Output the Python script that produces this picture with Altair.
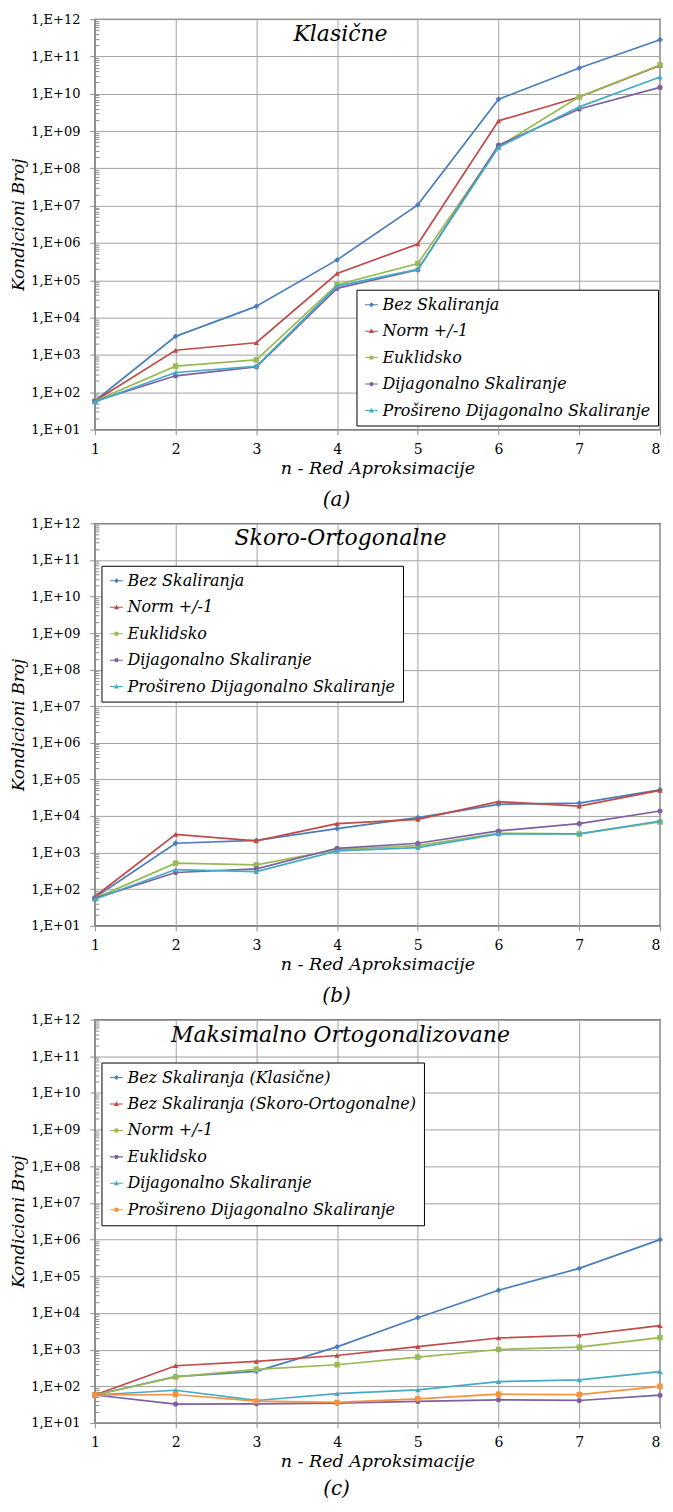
import altair as alt
import pandas as pd

FONT = "DejaVu Serif"

x_vals = [1, 2, 3, 4, 5, 6, 7, 8]
y_ticks = [10 ** k for k in range(1, 13)]
minor_ticks = [m * 10 ** k for k in range(1, 12) for m in range(2, 10)]

# ---- (a) Klasične
series_a = ["Bez Skaliranja", "Norm +/-1", "Euklidsko", "Dijagonalno Skaliranje",
            "Prošireno Dijagonalno Skaliranje"]
a_bez = [58, 3140, 20000, 352000, 1.05e7, 7.1e9, 4.9e10, 2.8e11]
a_norm = [58, 1330, 2120, 152000, 9.4e5, 1.88e9, 8.2e9, 5.7e10]
a_euk = [58, 498, 733, 76000, 281000, 3.8e8, 8.3e9, 5.9e10]
a_dij = [57, 275, 478, 60700, 190000, 4.2e8, 3.9e9, 1.48e10]
a_pro = [55, 337, 490, 70000, 195000, 3.67e8, 4.45e9, 2.8e10]

# ---- (b) Skoro-Ortogonalne
series_b = series_a
b_bez = [59, 1800, 2150, 4500, 9000, 20800, 22600, 52000]
b_norm = [63, 3160, 2080, 6170, 8100, 24600, 18700, 50000]
b_euk = [56, 512, 461, 1210, 1550, 3370, 3230, 6860]
b_dij = [56, 285, 359, 1310, 1800, 3900, 6170, 13700]
b_pro = [53, 343, 303, 1110, 1370, 3230, 3230, 7300]

# ---- (c) Maksimalno Ortogonalizovane
series_c = ["Bez Skaliranja (Klasične)", "Bez Skaliranja (Skoro-Ortogonalne)", "Norm +/-1",
            "Euklidsko", "Dijagonalno Skaliranje", "Prošireno Dijagonalno Skaliranje"]
c_bez_k = [58, 184, 256, 1190, 7420, 41600, 164000, 1.0e6]
c_bez_s = [58, 364, 477, 693, 1215, 2080, 2470, 4500]
c_norm = [58, 180, 290, 387, 625, 1010, 1170, 2130]
c_euk = [58, 32.7, 33.3, 34.8, 38.6, 42.9, 41.1, 57.3]
c_dij = [58, 78, 41, 63.5, 80, 134, 149, 251]
c_pro = [58, 59.7, 39.4, 36.3, 45.6, 61, 59.7, 100]

BLUE, RED, GREEN, PURPLE, CYAN, ORANGE = "#4A7EBB", "#BE4B48", "#98B954", "#7D60A0", "#46AAC5", "#F69240"

LINE = "M-1,-0.08H1V0.08H-1Z "
P_DIAMOND = LINE + "M0,-0.38L0.38,0L0,0.38L-0.38,0Z"
P_TRI = LINE + "M0,-0.4L0.4,0.3H-0.4Z"
P_SQ = LINE + "M-0.3,-0.3H0.3V0.3H-0.3Z"
P_CIRC = LINE + "M0.32,0A0.32,0.32 0 1,1 -0.32,0A0.32,0.32 0 1,1 0.32,0Z"

styles_a = [(BLUE, "diamond", P_DIAMOND, 34), (RED, "triangle-up", P_TRI, 30),
            (GREEN, "square", P_SQ, 30), (PURPLE, "circle", P_CIRC, 26),
            (CYAN, "triangle-up", P_TRI, 30)]
styles_c = [(BLUE, "diamond", P_DIAMOND, 34), (RED, "triangle-up", P_TRI, 30),
            (GREEN, "square", P_SQ, 30), (PURPLE, "circle", P_CIRC, 26),
            (CYAN, "triangle-up", P_TRI, 30), (ORANGE, "square", P_SQ, 30)]

LABEL_EXPR = "'1,E+' + (datum.value < 1e10 ? '0' : '') + round(log(datum.value) / LN10)"
PLOT_W = 566


def panel(series, values, styles, title_text, caption, lx, ly, height, cap_offset):
    rows = []
    for s, vals in zip(series, values):
        for xv, yv in zip(x_vals, vals):
            rows.append({"n": xv, "value": yv, "series": s})
    df = pd.DataFrame(rows)

    xenc = alt.X("n:Q", scale=alt.Scale(domain=[1, 8], nice=False, zero=False),
                 axis=alt.Axis(values=x_vals, format="d", title="n - Red Aproksimacije",
                               labelFontSize=14, tickSize=5, labelPadding=8,
                               labelAlign={"condition": {"test": "datum.value == 8", "value": "right"},
                                           "value": "center"},
                               titleFontSize=17.5, titleFontStyle="italic", titleFontWeight="normal",
                               titlePadding=3, labelFlush=False))
    yscale = alt.Scale(type="log", domain=[10, 1e12], nice=False)
    main_axis = alt.Axis(values=y_ticks, labelExpr=LABEL_EXPR, title="Kondicioni Broj",
                         labelFontSize=13, tickSize=5, labelPadding=10,
                         titleFontSize=17, titleFontStyle="italic", titleFontWeight="normal",
                         titlePadding=3)
    minor_axis = alt.Axis(values=minor_ticks, labels=False, domain=False, grid=False,
                          tickSize=4, offset=-4, title=None, orient="left")

    layers = []
    for i, (s, st) in enumerate(zip(series, styles)):
        color, shape, _, size = st
        sub = alt.Chart(df).transform_filter(alt.datum.series == s)
        yenc = alt.Y("value:Q", scale=yscale, axis=main_axis if i == 0 else None)
        layers.append(sub.mark_line(color=color, strokeWidth=1.7).encode(x=xenc, y=yenc))
        layers.append(sub.mark_point(color=color, shape=shape, filled=True, size=size, opacity=1)
                      .encode(x=xenc, y=alt.Y("value:Q", scale=yscale, axis=None)))

    leg = alt.Legend(title=None, orient="none", legendX=lx, legendY=ly,
                     strokeColor="black", fillColor="white", padding=7,
                     labelFont=FONT, labelFontSize=16, labelFontStyle="italic",
                     labelColor="black", labelLimit=600, symbolSize=169,
                     symbolStrokeWidth=0, rowPadding=10.5, symbolOpacity=1, labelOffset=3)
    legend_layer = alt.Chart(df).mark_point(filled=True, opacity=0, size=169, clip=True).encode(
        x=xenc,
        y=alt.Y("value:Q", scale=yscale, axis=minor_axis),
        color=alt.Color("series:N", scale=alt.Scale(domain=series, range=[s[0] for s in styles]),
                        legend=leg),
        shape=alt.Shape("series:N", scale=alt.Scale(domain=series, range=[s[2] for s in styles]),
                        legend=leg),
    )
    layers.append(legend_layer)

    title_layer = alt.Chart(pd.DataFrame({"t": [title_text]})).mark_text(
        font=FONT, fontSize=22, fontStyle="italic", align="center", baseline="alphabetic",
        color="black").encode(text="t:N", x=alt.value(246), y=alt.value(22))
    layers.append(title_layer)

    return alt.layer(*layers).resolve_axis(y="independent").properties(
        width=PLOT_W, height=height,
        title=alt.TitleParams(caption, orient="bottom", anchor="middle", frame="bounds",
                              fontSize=20, font=FONT, fontStyle="italic", fontWeight="normal",
                              offset=cap_offset, color="black"))


pa = panel(series_a, [a_bez, a_norm, a_euk, a_dij, a_pro], styles_a, "Klasične", "(a)",
           262, 271, 411, 13)
pb = panel(series_b, [b_bez, b_norm, b_euk, b_dij, b_pro], styles_a, "Skoro-Ortogonalne", "(b)",
           6.6, 42.5, 403, 13)
pc = panel(series_c, [c_bez_k, c_bez_s, c_norm, c_euk, c_dij, c_pro], styles_c,
           "Maksimalno Ortogonalizovane", "(c)", 6.6, 43, 404, 9)

chart = alt.vconcat(pa, pb, pc, spacing=5).resolve_scale(
    color="independent", shape="independent"
).resolve_legend(
    color="independent", shape="independent"
).properties(
    padding={"left": 1, "top": 3, "right": 0, "bottom": 0}
).configure_view(
    stroke="#404040", strokeWidth=1.3
).configure_axis(
    gridColor="#a3a3a3", gridWidth=1, domainColor="#8c8c8c", tickColor="#8c8c8c",
    labelFont=FONT, titleFont=FONT, labelColor="black", titleColor="black"
)

chart.save("out.html", embed_options={"renderer": "svg", "actions": False})
